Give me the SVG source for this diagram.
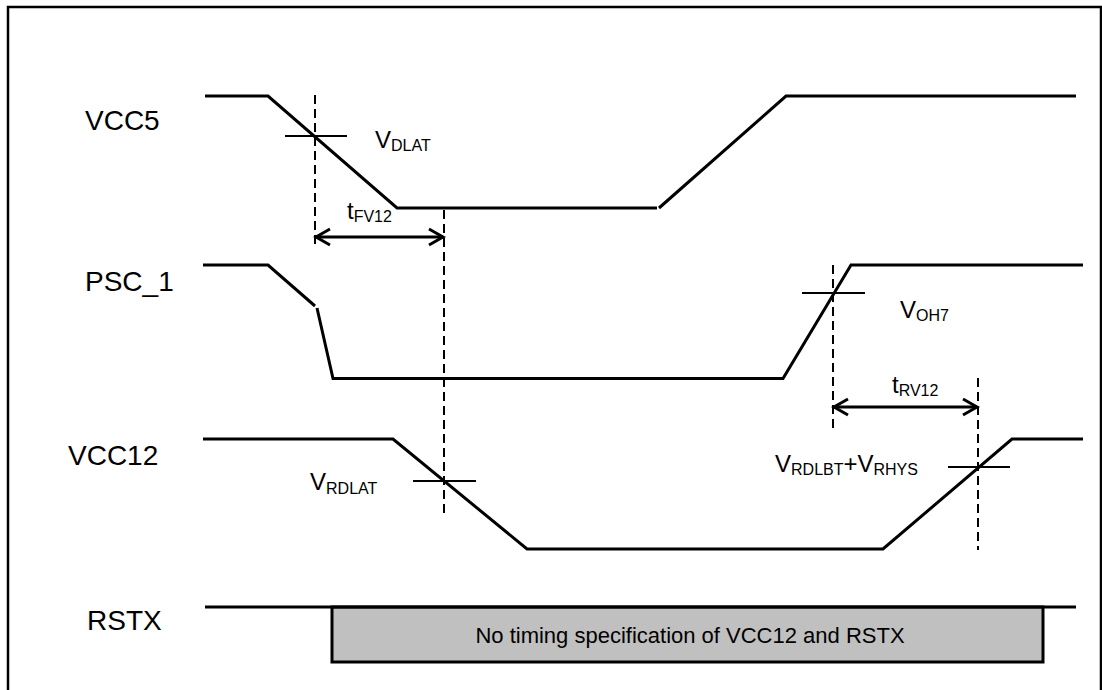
<svg xmlns="http://www.w3.org/2000/svg" width="1102" height="690" viewBox="0 0 1102 690">
<style>
.sig{fill:none;stroke:#000;stroke-width:3;stroke-linejoin:miter}
.tick{fill:none;stroke:#000;stroke-width:2}
.dash{fill:none;stroke:#000;stroke-width:2;stroke-dasharray:9 5}
.arr{fill:none;stroke:#000;stroke-width:3;marker-start:url(#ah);marker-end:url(#ah)}
.lbl{font-family:"Liberation Sans",Arial,sans-serif;font-size:28px;fill:#000}
.v{font-family:"Liberation Sans",Arial,sans-serif;font-size:24px;fill:#000}
.sub{font-size:16px}
.box{fill:#c0c0c0;stroke:#000;stroke-width:3}
.boxt{font-family:"Liberation Sans",Arial,sans-serif;font-size:22px;fill:#000;text-anchor:middle}
</style>
<defs>
<marker id="ah" markerUnits="userSpaceOnUse" viewBox="0 0 20 20" markerWidth="20" markerHeight="20" refX="17" refY="10" orient="auto-start-reverse">
<path d="M3,2 L17,10 L3,18" fill="none" stroke="#000" stroke-width="3"/>
</marker>
</defs>
<rect id="frame" x="8" y="7" width="1093" height="700" fill="#fff" stroke="#000" stroke-width="2.5"/>

<g id="vcc5">
<text class="lbl" x="85" y="130">VCC5</text>
<polyline class="sig" points="205,96 268,96 397,208 657,208"/>
<polyline class="sig" points="659,208 786,96 1076,96"/>
<line class="tick" x1="285" y1="136" x2="347" y2="136"/>
<text class="v" x="375" y="148">V<tspan class="sub" dy="3">DLAT</tspan></text>
</g>

<g id="psc1">
<text class="lbl" x="85" y="291">PSC_1</text>
<polyline class="sig" points="203,265 268,265 315,306"/>
<polyline class="sig" points="317,308 333,378.5 783,378.5 851,265 1083,265"/>
<line class="tick" x1="802" y1="293" x2="865" y2="293"/>
<text class="v" x="900" y="318">V<tspan class="sub" dy="3">OH7</tspan></text>
</g>

<g id="vcc12">
<text class="lbl" x="68" y="465">VCC12</text>
<polyline class="sig" points="203,439 393,439 527,549 883,549 1012,439 1083,439"/>
<line class="tick" x1="413" y1="481" x2="476" y2="481"/>
<line class="tick" x1="948" y1="467" x2="1010" y2="467"/>
<text class="v" x="310" y="490">V<tspan class="sub" dy="4">RDLAT</tspan></text>
<text class="v" x="775" y="472">V<tspan class="sub" dy="3">RDLBT</tspan><tspan dy="-3">+V</tspan><tspan class="sub" dy="3">RHYS</tspan></text>
</g>

<g id="rstx">
<text class="lbl" x="87" y="630">RSTX</text>
<rect class="box" x="332" y="607" width="711" height="55"/>
<line class="sig" x1="205" y1="607" x2="1076" y2="607"/>
<text class="boxt" x="690" y="643">No timing specification of VCC12 and RSTX</text>
</g>

<g id="connectors">
<line class="dash" x1="315" y1="95" x2="315" y2="245"/>
<line class="dash" x1="444" y1="210" x2="444" y2="513"/>
<line class="dash" x1="833" y1="265" x2="833" y2="432"/>
<line class="dash" x1="978" y1="378" x2="978" y2="550"/>
<line class="arr" x1="316" y1="237" x2="443" y2="237"/>
<line class="arr" x1="834" y1="407" x2="977" y2="407"/>
<text class="v" x="347" y="219">t<tspan class="sub" dy="3">FV12</tspan></text>
<text class="v" x="892" y="393">t<tspan class="sub" dy="3">RV12</tspan></text>
</g>
</svg>
